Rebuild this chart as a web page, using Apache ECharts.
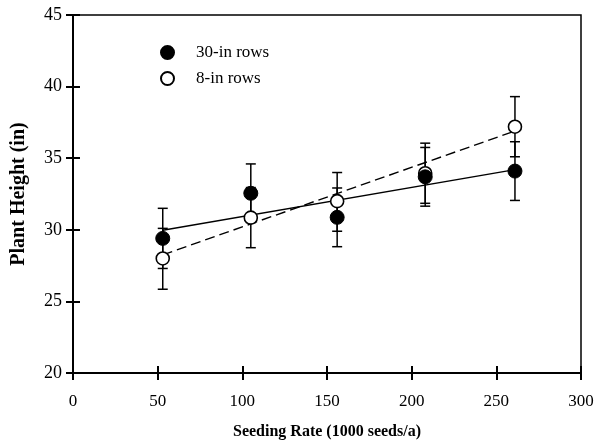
<!DOCTYPE html>
<html>
<head>
<meta charset="utf-8">
<script src="https://cdn.jsdelivr.net/npm/echarts@6/dist/echarts.min.js"></script>
<style>
html,body{margin:0;padding:0;background:#fff;}
#chartmain{width:597px;height:441px;}
</style>
</head>
<body>
<div id="chartmain"></div>
<script>
// seeding rate (1000 seeds/a)
var seedRate = [53, 105, 156, 208, 261];
// 30-in rows: mean and error bar ends
var rows30 = [29.4, 32.55, 30.87, 33.7, 34.1];
var rows30Low = [27.3, 30.5, 28.82, 31.65, 32.05];
var rows30High = [31.5, 34.6, 32.92, 35.75, 36.15];
// 8-in rows
var rows8 = [28.0, 30.85, 32.0, 33.95, 37.2];
var rows8Low = [25.85, 28.75, 29.9, 31.85, 35.1];
var rows8High = [30.1, 32.95, 34.0, 36.05, 39.3];
// regression lines, end points
var fit30 = [[53, 29.97], [261, 34.2]];
var fit8 = [[53, 28.25], [261, 36.9]];

var serif = "'Liberation Serif', 'DejaVu Serif', serif";

function pairs(xs, ys){
	var out = [];
	for(var i=0;i<xs.length;i++){
		out.push([xs[i], ys[i]]);
	}
	return out;
}
function bars(xs, lo, hi){
	var out = [];
	for(var i=0;i<xs.length;i++){
		out.push([xs[i], lo[i], hi[i]]);
	}
	return out;
}
function renderErr(params, api){
	var x = api.value(0);
	var pLo = api.coord([x, api.value(1)]);
	var pHi = api.coord([x, api.value(2)]);
	var w = 5;
	var st = {stroke:'#000', lineWidth:1.5};
	return {
		type:'group',
		children:[
			{type:'line', shape:{x1:pLo[0], y1:pLo[1], x2:pHi[0], y2:pHi[1]}, style:st},
			{type:'line', shape:{x1:pLo[0]-w, y1:pLo[1], x2:pLo[0]+w, y2:pLo[1]}, style:st},
			{type:'line', shape:{x1:pHi[0]-w, y1:pHi[1], x2:pHi[0]+w, y2:pHi[1]}, style:st}
		]
	};
}

var axisBase = {
	type:'value',
	axisLine:{show:true, lineStyle:{color:'#000', width:2}},
	splitLine:{show:false}
};

var myChart = echarts.init(document.getElementById('chartmain'));
var option = {
	animation:false,
	backgroundColor:'#fff',
	grid:{
		left:73, right:16, top:15, bottom:68,
		outerBoundsMode:'none', containLabel:false,
		show:true, borderColor:'#000', borderWidth:1.5
	},
	legend:{
		orient:'vertical',
		left:155, top:39,
		itemWidth:13, itemHeight:13,
		itemGap:9,
		data:['30-in rows','8-in rows'],
		textStyle:{fontFamily:serif, fontSize:17, color:'#000', padding:[0,0,0,17]}
	}
};

// two axes on each side: one with ticks outside, one inside, so the ticks cross
option.xAxis = [
	Object.assign({}, axisBase, {
		position:'bottom',
		min:0, max:300, interval:50,
		axisTick:{show:true, inside:false, length:7, lineStyle:{color:'#000', width:2}},
		axisLabel:{fontFamily:serif, fontSize:17, color:'#000', margin:20},
		name:'Seeding Rate (1000 seeds/a)',
		nameLocation:'middle', nameGap:51,
		nameTextStyle:{fontFamily:serif, fontSize:16, fontWeight:'bold', color:'#000'}
	}),
	Object.assign({}, axisBase, {
		position:'bottom', offset:0,
		min:0, max:300, interval:50,
		axisTick:{show:true, inside:true, length:7, lineStyle:{color:'#000', width:2}},
		axisLabel:{show:false}
	})
];
option.yAxis = [
	Object.assign({}, axisBase, {
		position:'left',
		min:20, max:45, interval:5,
		axisTick:{show:true, inside:false, length:7, lineStyle:{color:'#000', width:2}},
		axisLabel:{fontFamily:serif, fontSize:18, color:'#000', margin:11},
		name:'Plant Height (in)',
		nameLocation:'middle', nameGap:44,
		nameTextStyle:{fontFamily:serif, fontSize:20, fontWeight:'bold', color:'#000'}
	}),
	Object.assign({}, axisBase, {
		position:'left', offset:0,
		min:20, max:45, interval:5,
		axisTick:{show:true, inside:true, length:7, lineStyle:{color:'#000', width:2}},
		axisLabel:{show:false}
	})
];
option.series = [
	{
		type:'line', data:fit30, symbol:'none', silent:true,
		lineStyle:{color:'#000', width:1.4, type:'solid'}, z:2
	},
	{
		type:'line', data:fit8, symbol:'none', silent:true,
		lineStyle:{color:'#000', width:1.4, type:[10,5]}, z:2
	},
	{
		type:'custom', renderItem:renderErr, data:bars(seedRate, rows8Low, rows8High),
		encode:{x:0, y:[1,2]}, silent:true, z:3
	},
	{
		type:'custom', renderItem:renderErr, data:bars(seedRate, rows30Low, rows30High),
		encode:{x:0, y:[1,2]}, silent:true, z:3
	},
	{
		name:'8-in rows', type:'scatter', data:pairs(seedRate, rows8),
		symbol:'circle', symbolSize:13,
		itemStyle:{color:'#fff', borderColor:'#000', borderWidth:1.6, opacity:1}, z:4
	},
	{
		name:'30-in rows', type:'scatter', data:pairs(seedRate, rows30),
		symbol:'circle', symbolSize:14,
		itemStyle:{color:'#000', borderColor:'#000', borderWidth:1, opacity:1}, z:5
	}
];
myChart.setOption(option);
</script>
</body>
</html>
